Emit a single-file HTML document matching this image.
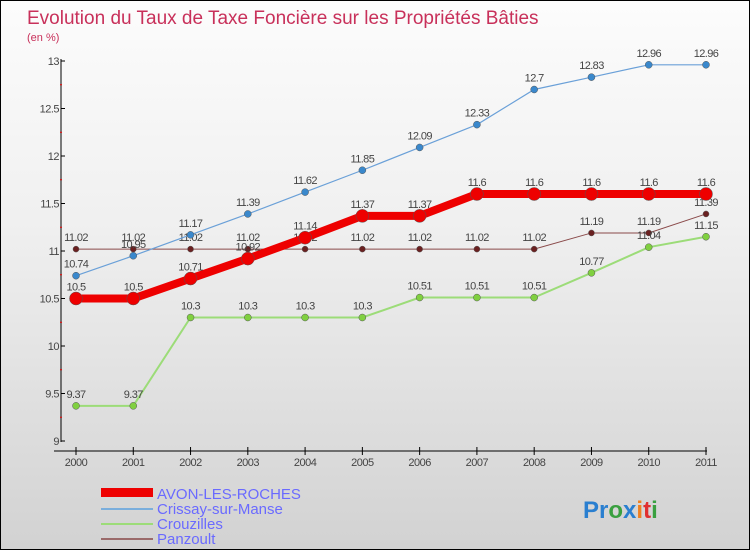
<!DOCTYPE html>
<html><head><meta charset="utf-8"><style>
body{margin:0}
#c{position:relative;width:748px;height:548px;border:1px solid #000;background:linear-gradient(#fcfcfc,#f0f0f0 40%,#d2d2d2);font-family:"Liberation Sans",sans-serif;overflow:hidden}
svg text{font-family:"Liberation Sans",sans-serif}
</style></head><body>
<div id="c">
<svg id="s" width="748" height="548">
<text x="26" y="23" font-size="19" fill="#c8305a">Evolution du Taux de Taxe Foncière sur les Propriétés Bâties</text>
<text x="26" y="40" font-size="11" fill="#c8305a">(en %)</text>
<g id="g"></g>
<g>
<rect x="100" y="487" width="52" height="9" fill="#e00"/>
<text x="156" y="498" font-size="15" fill="#6a6aff">AVON-LES-ROCHES</text>
<line x1="100" y1="508" x2="152" y2="508" stroke="#7aaedc" stroke-width="2"/>
<text x="156" y="513" font-size="15" fill="#6a6aff">Crissay-sur-Manse</text>
<line x1="100" y1="523" x2="152" y2="523" stroke="#9cdc78" stroke-width="2"/>
<text x="156" y="528" font-size="15" fill="#6a6aff">Crouzilles</text>
<line x1="100" y1="538" x2="152" y2="538" stroke="#9a6a6a" stroke-width="2"/>
<text x="156" y="543" font-size="15" fill="#6a6aff">Panzoult</text>
</g>
<text x="582" y="517" font-size="24" font-weight="bold"><tspan fill="#2a7fd0">Pr</tspan><tspan fill="#3aa040">o</tspan><tspan fill="#2a7fd0">x</tspan><tspan fill="#f08020">i</tspan><tspan fill="#e03030">t</tspan><tspan fill="#3aa040">i</tspan></text>
</svg></div>
<script>
const years=[2000,2001,2002,2003,2004,2005,2006,2007,2008,2009,2010,2011];
const yTicks=[9,9.5,10,10.5,11,11.5,12,12.5,13];
const avon=[10.5,10.5,10.71,10.92,11.14,11.37,11.37,11.6,11.6,11.6,11.6,11.6];
const crissay=[10.74,10.95,11.17,11.39,11.62,11.85,12.09,12.33,12.7,12.83,12.96,12.96];
const crouzilles=[9.37,9.37,10.3,10.3,10.3,10.3,10.51,10.51,10.51,10.77,11.04,11.15];
const panzoult=[11.02,11.02,11.02,11.02,11.02,11.02,11.02,11.02,11.02,11.19,11.19,11.39];
const NS="http://www.w3.org/2000/svg",g=document.getElementById('g');
const X=i=>75+i*(705-75)/(years.length-1);
const Y=v=>440-(v-9)*(440-60)/4;
function el(t,a){const e=document.createElementNS(NS,t);for(const k in a)e.setAttribute(k,a[k]);g.appendChild(e);return e;}
let e=el('line',{x1:60,y1:58,x2:60,y2:441,stroke:'#000'});


e=el('line',{x1:53,y1:450,x2:706,y2:450,stroke:'#000'});


yTicks.forEach((v,i)=>{
 let t=el('line',{x1:60,y1:Y(v),x2:64,y2:Y(v),stroke:'#000'});
 
 
 let l=el('text',{x:58,y:Y(v)+4,'font-size':11,fill:'#444','text-anchor':'end','letter-spacing':'-0.5'});l.textContent=v;
 
 
 if(i<yTicks.length-1){let m=el('line',{x1:59,y1:Y(v+0.25),x2:61,y2:Y(v+0.25),stroke:'#e00'});
 
 }
});
years.forEach((y,i)=>{
 let t=el('line',{x1:X(i),y1:446,x2:X(i),y2:454,stroke:'#000'});
 
 
 let l=el('text',{x:X(i),y:465,'font-size':11,fill:'#444','text-anchor':'middle','letter-spacing':'-0.5'});l.textContent=y;
 
 
});
function series(d,name,col,w,r,dot,lab){
 let p=el('polyline',{points:d.map((v,i)=>X(i)+','+Y(v)).join(' '),fill:'none',stroke:col,'stroke-width':w});
 
 
 d.forEach((v,i)=>{
  let c=el('circle',{cx:X(i),cy:Y(v),r:r,fill:dot,stroke:'#555','stroke-width':0.5});
  
  
  let t=el('text',{x:X(i),y:Y(v)-8,'font-size':11,fill:'#444','text-anchor':'middle','letter-spacing':'-0.6'});t.textContent=v;
  
  
 });
}
series(panzoult,'panzoult','#8a4a4a',1,3,'#6a2020');
series(crouzilles,'crouzilles','#9cdc78',2,3.5,'#80d040');
series(crissay,'crissay','#6aa0d8',1.2,3.5,'#3a88cc');
series(avon,'avon','#ee0000',8,6.5,'#ee0000');
</script>
</body></html>
